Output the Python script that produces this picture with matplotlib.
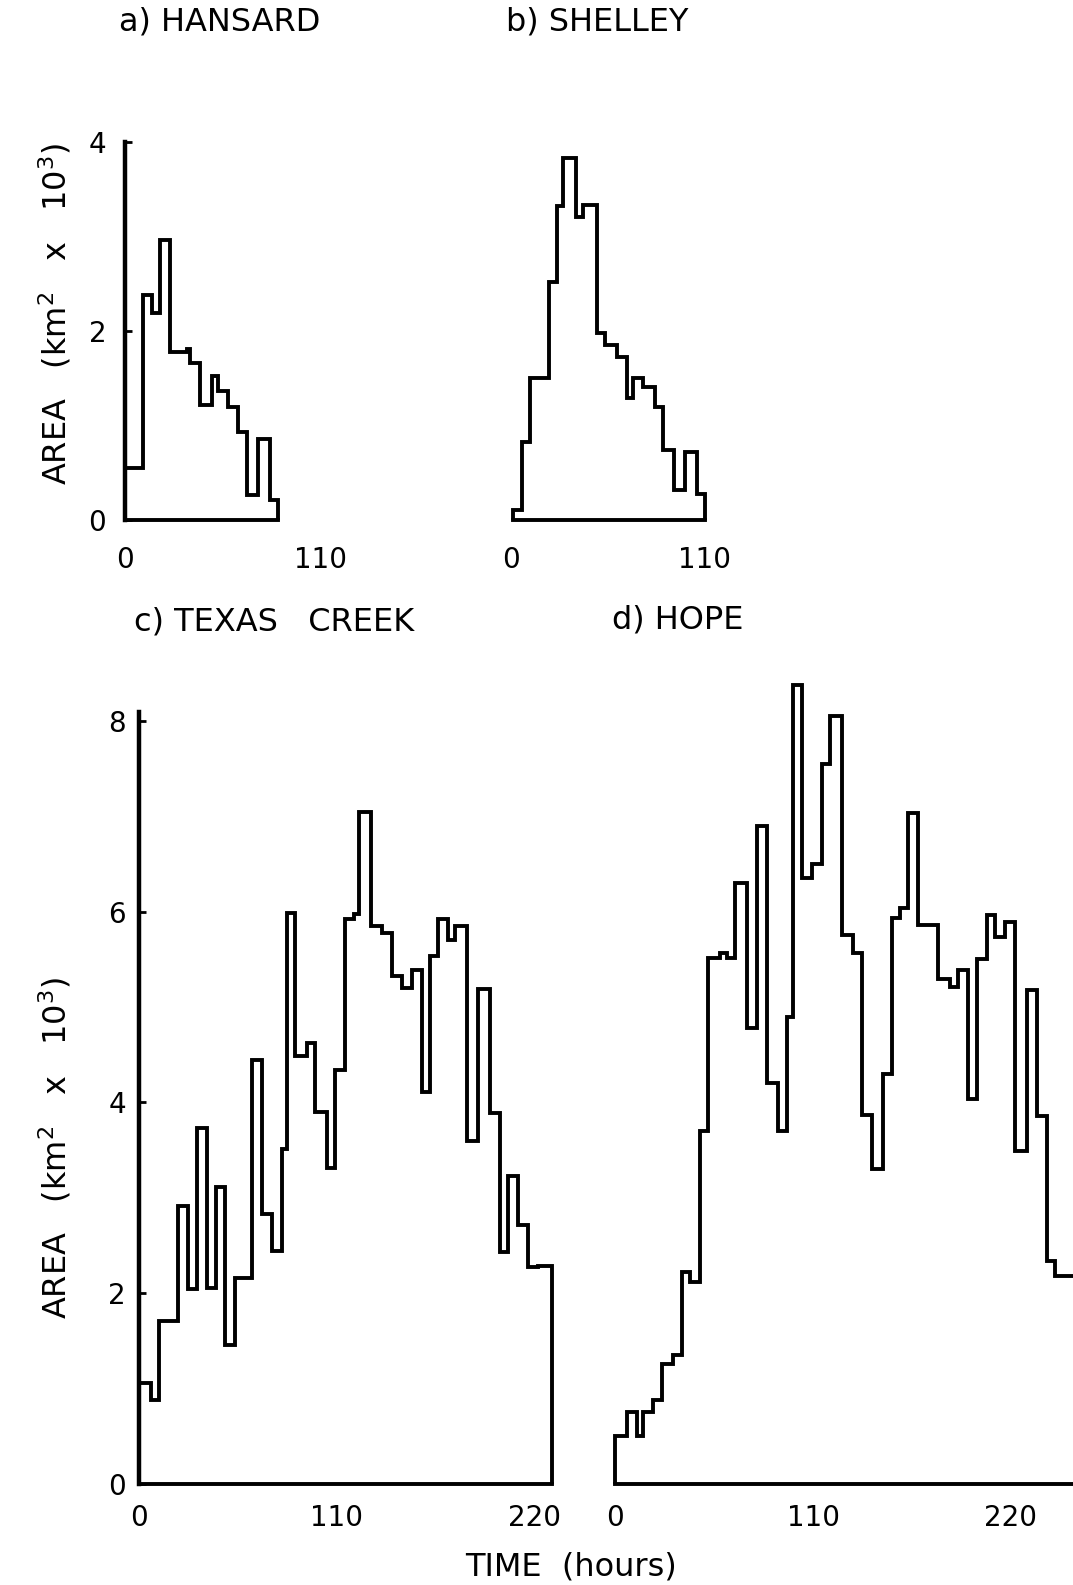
"""
Step histograms of snow-covered area through time for four gauging
stations (Hansard, Shelley, Texas Creek, Hope).
"""

import matplotlib
matplotlib.use('Agg')
import matplotlib.pyplot as plt


# a) Hansard: bin edges (hours) and area (km2 x 10^3)
hansard_edges = [0, 10.3, 15.0, 19.7, 25.3, 34.6, 36.5, 42.1, 48.7, 52.4,
                 58.0, 63.7, 68.4, 74.9, 81.5, 86.1]
hansard_area = [0.55, 2.38, 2.19, 2.96, 1.78, 1.81, 1.66, 1.22, 1.52, 1.37,
                1.20, 0.93, 0.26, 0.86, 0.21]

# b) Shelley
shelley_edges = [1.5, 6.2, 10.9, 21.7, 26.1, 29.8, 37.0, 41.2, 49.1, 53.4,
                 60.0, 65.7, 69.5, 75.1, 81.8, 86.5, 92.5, 98.8, 105.4, 110.1]
shelley_area = [0.11, 0.83, 1.50, 2.52, 3.32, 3.83, 3.21, 3.33, 1.98, 1.85,
                1.73, 1.29, 1.50, 1.41, 1.20, 0.74, 0.32, 0.72, 0.28]

# c) Texas Creek
texas_edges = [0, 7.2, 11.6, 22.1, 27.7, 32.4, 37.8, 43.0, 48.1, 53.7,
               62.9, 68.4, 74.0, 79.5, 82.3, 87.0, 93.5, 98.0, 104.5, 109.4,
               114.8, 119.7, 122.7, 129.0, 135.1, 140.6, 146.2, 151.8, 157.4,
               161.9, 166.6, 172.1, 175.9, 182.4, 188.8, 195.3, 200.8, 205.4,
               211.0, 216.6, 222.1, 229.5]
texas_area = [1.06, 0.88, 1.71, 2.91, 2.04, 3.73, 2.05, 3.11, 1.45, 2.16,
              4.44, 2.83, 2.44, 3.51, 5.99, 4.49, 4.62, 3.90, 3.31, 4.34,
              5.92, 5.98, 7.05, 5.85, 5.78, 5.33, 5.20, 5.39, 4.11, 5.54,
              5.92, 5.70, 5.85, 3.59, 5.19, 3.89, 2.43, 3.23, 2.71, 2.27,
              2.28]

# d) Hope
hope_edges = [0, 6.5, 12.0, 15.7, 21.3, 25.9, 32.4, 37.0, 41.7, 47.2,
              51.9, 58.3, 62.0, 66.7, 73.1, 78.7, 84.3, 90.7, 95.4, 99.1,
              103.7, 109.3, 114.8, 119.4, 125.9, 132.4, 137.0, 142.6, 149.1,
              153.7, 158.3, 163.0, 168.5, 179.6, 186.1, 190.7, 196.3, 200.9,
              206.5, 211.1, 216.7, 222.2, 228.7, 234.3, 239.8, 244.4, 255.5]
hope_area = [0.50, 0.75, 0.50, 0.75, 0.88, 1.25, 1.35, 2.22, 2.12, 3.70,
             5.52, 5.57, 5.52, 6.30, 4.78, 6.90, 4.20, 3.70, 4.90, 8.38,
             6.35, 6.50, 7.55, 8.05, 5.76, 5.57, 3.87, 3.30, 4.30, 5.94,
             6.04, 7.04, 5.86, 5.29, 5.21, 5.39, 4.04, 5.50, 5.97, 5.74,
             5.89, 3.49, 5.18, 3.86, 2.34, 2.18]

W, H = 1073, 1585
LW = 2.8
FS = 20
TITLE_FS = 23


def make_axes(fig, left, top, width, height):
    """Adds an axes given in pixels measured from the top-left corner."""
    return fig.add_axes([left / W, 1 - (top + height) / H,
                         width / W, height / H])


def draw_hist(ax, edges, area):
    """Draws a closed step outline of the histogram."""
    ax.stairs(area, edges, baseline=0, color='black', lw=LW, clip_on=False)
    ax.plot([edges[0], edges[-1]], [0, 0], color='black', lw=LW,
            solid_capstyle='projecting', clip_on=False)


def style(ax, xlim, ylim, xticks, yticks, show_y, xpad, ypad):
    ax.set_xlim(xlim)
    ax.set_ylim(ylim)
    for side in ['top', 'right', 'bottom']:
        ax.spines[side].set_visible(False)
    ax.set_xticks(xticks)
    ax.set_xticklabels([str(t) for t in xticks])
    ax.tick_params(axis='x', length=0, pad=xpad, labelsize=FS)
    if show_y:
        ax.spines['left'].set_linewidth(3.2)
        ax.spines['left'].set_bounds(0, ylim[1])
        ax.set_yticks(yticks)
        ax.set_yticklabels([str(t) for t in yticks])
        ax.tick_params(axis='y', direction='in', length=5, width=2,
                       pad=ypad, labelsize=FS)
    else:
        ax.spines['left'].set_visible(False)
        ax.set_yticks([])
    ax.patch.set_alpha(0)


def plot_all():
    fig = plt.figure(figsize=(W / 100, H / 100), dpi=100)

    # top row
    ax_a = make_axes(fig, 125, 142, 110 * 1.78, 378)
    draw_hist(ax_a, hansard_edges, hansard_area)
    style(ax_a, (0, 110), (0, 4), [0, 110], [0, 2, 4], True, 18.5, 13.5)

    ax_b = make_axes(fig, 510.7, 142, 110 * 1.765, 378)
    draw_hist(ax_b, shelley_edges, shelley_area)
    style(ax_b, (0, 110), (0, 4), [0, 110], [], False, 18.5, 0)

    # bottom row
    ax_c = make_axes(fig, 138.5, 1483.6 - 8.1 * 95.3, 230 * 1.8, 8.1 * 95.3)
    draw_hist(ax_c, texas_edges, texas_area)
    style(ax_c, (0, 230), (0, 8.1), [0, 110, 220], [0, 2, 4, 6, 8], True,
          14.5, 9)

    ax_d = make_axes(fig, 615, 1483.6 - 8.5 * 95.3, 255.5 * 1.8, 8.5 * 95.3)
    draw_hist(ax_d, hope_edges, hope_area)
    style(ax_d, (0, 255.5), (0, 8.5), [0, 110, 220], [], False, 14.5, 0)

    # panel titles
    fig.text(119 / W, 1 - 22 / H, 'a) HANSARD', fontsize=TITLE_FS,
             va='center')
    fig.text(506 / W, 1 - 22 / H, 'b) SHELLEY', fontsize=TITLE_FS,
             va='center')
    fig.text(134.5 / W, 1 - 622 / H, 'c) TEXAS   CREEK', fontsize=TITLE_FS,
             va='center')
    fig.text(612 / W, 1 - 620 / H, 'd) HOPE', fontsize=TITLE_FS,
             va='center')

    # axis labels
    ylab = 'AREA   (km$^2$   x   10$^3$)'
    fig.text(55.6 / W, 1 - 313.5 / H, ylab, fontsize=23, rotation=90,
             ha='center', va='center')
    fig.text(55.6 / W, 1 - 1148 / H, ylab, fontsize=23, rotation=90,
             ha='center', va='center')
    fig.text(571 / W, 1 - 1567 / H, 'TIME  (hours)', fontsize=23,
             ha='center', va='center')

    plt.savefig('out.png', dpi=100)
    plt.close()


plot_all()
